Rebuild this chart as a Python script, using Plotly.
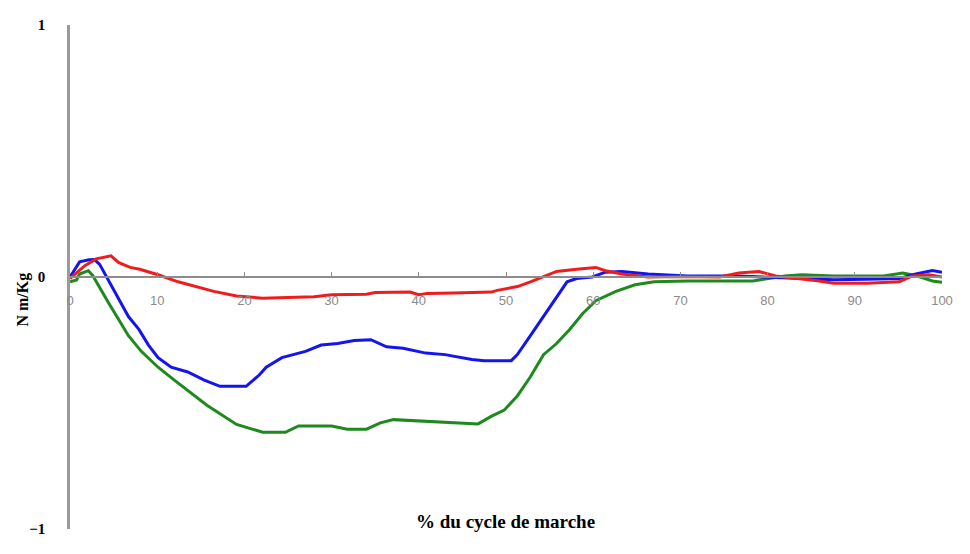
import plotly.graph_objects as go

# % of gait cycle vs moment (N m/Kg)
red_x = [0, 1.7, 3, 4.7, 5.6, 6.9, 8, 10.1, 12.4, 14.6, 16.5, 19.1, 22.1, 24, 28, 30, 34, 35, 39, 40, 41, 44,
         48.3, 49, 51.3, 52.8, 54.3, 55.8, 58.1, 60.3, 61.4, 63.3, 66.3, 70, 74.5, 76.7, 79, 80.9, 85.7, 87.6,
         91.4, 95.1, 96.6, 98.5, 100]
red_y = [-0.006, 0.045, 0.072, 0.084, 0.057, 0.038, 0.031, 0.009, -0.019, -0.038, -0.057, -0.075, -0.084, -0.082,
         -0.078, -0.07, -0.068, -0.062, -0.06, -0.07, -0.065, -0.063, -0.06, -0.053, -0.038, -0.019, 0.0, 0.022,
         0.031, 0.038, 0.025, 0.012, 0.0, 0.002, 0.0, 0.016, 0.022, 0.004, -0.015, -0.025, -0.025, -0.019, 0.004,
         0.009, 0.0]

blue_x = [0, 0.6, 1.1, 2.2, 2.8, 3.4, 4.5, 5.6, 6.7, 7.9, 9, 10.1, 11.6, 13.5, 15.4, 17.2, 20.2, 21.7, 22.5, 24.3,
          27, 28.8, 30.7, 32.6, 34.5, 36.3, 38.2, 40.8, 43, 46.1, 47.5, 50.6, 51.3, 52.8, 54.3, 55.8, 57, 58.1,
          59.9, 61.4, 63.3, 66.3, 70.8, 76.4, 82, 87.6, 91.3, 95.1, 97, 98.9, 100]
blue_y = [0.0, 0.031, 0.06, 0.068, 0.069, 0.05, -0.019, -0.082, -0.157, -0.208, -0.27, -0.32, -0.358, -0.377,
          -0.409, -0.434, -0.434, -0.389, -0.358, -0.32, -0.295, -0.27, -0.264, -0.252, -0.249, -0.277, -0.283,
          -0.302, -0.308, -0.327, -0.332, -0.332, -0.308, -0.233, -0.157, -0.082, -0.019, -0.006, 0.0, 0.019,
          0.022, 0.012, 0.004, 0.004, -0.004, -0.011, -0.009, -0.006, 0.012, 0.026, 0.019]

green_x = [0, 0.75, 1.1, 2.1, 2.6, 3.4, 4.5, 5.6, 6.7, 8.2, 10.1, 12, 13.9, 15.7, 19.1, 22.1, 24.7, 26.2, 30,
           31.8, 34, 35.6, 37.1, 40.1, 43.8, 46.8, 48.3, 49.8, 51.3, 52.8, 54.3, 55.8, 57.3, 58.8, 60.3, 62.6,
           64.8, 67, 70.8, 78.3, 82, 83.9, 87.6, 93.3, 95.5, 97, 98.9, 100]
green_y = [-0.019, -0.012, 0.012, 0.025, 0.006, -0.044, -0.107, -0.17, -0.233, -0.296, -0.358, -0.41, -0.46,
           -0.509, -0.585, -0.616, -0.616, -0.591, -0.591, -0.604, -0.604, -0.579, -0.566, -0.572, -0.579, -0.583,
           -0.553, -0.528, -0.472, -0.396, -0.308, -0.264, -0.208, -0.145, -0.094, -0.057, -0.031, -0.019, -0.016,
           -0.016, 0.004, 0.009, 0.004, 0.004, 0.016, 0.006, -0.016, -0.021]

x_ticks = [0, 10, 20, 30, 40, 50, 60, 70, 80, 90, 100]
y_ticks = [-1, 0, 1]

SERIF = "Liberation Serif"

fig = go.Figure()
for xs, ys, col in [(green_x, green_y, "#1e8a1e"), (blue_x, blue_y, "#1414f0"), (red_x, red_y, "#ee1c1c")]:
    fig.add_trace(go.Scatter(x=xs, y=ys, mode="lines", line=dict(color=col, width=3), showlegend=False))

# page body has an 8px margin: size the figure so the page is exactly 970x554
fig.update_layout(
    width=954, height=538, plot_bgcolor="white", paper_bgcolor="white",
    margin=dict(l=62, r=12, t=12, b=9),
    xaxis=dict(range=[0, 100], tickvals=x_ticks, showgrid=False, zeroline=False,
               anchor="free", position=0.5, showline=True, linecolor="#8c8c8c", linewidth=1.5,
               ticks="inside", ticklen=4, tickcolor="#8c8c8c", ticklabelstandoff=12,
               tickfont=dict(family="Liberation Sans", size=13, color="#8a8a8a")),
    yaxis=dict(range=[-1, 1], tickvals=y_ticks, showgrid=False, zeroline=False,
               showline=True, linecolor="#9a9a9a", linewidth=2.5, ticks="",
               ticklabelstandoff=19,
               tickfont=dict(family=SERIF, size=15, color="black", weight="bold")),
)
fig.add_annotation(x=-0.054, y=-0.09, xref="paper", yref="y", xanchor="center", text="N m/Kg",
                   textangle=-90, showarrow=False,
                   font=dict(family=SERIF, size=16, color="black", weight="bold"))
fig.add_annotation(x=49.9, y=-0.97, xref="x", yref="y", text="% du cycle de marche", showarrow=False,
                   font=dict(family=SERIF, size=19, color="black", weight="bold"))

fig.write_html("out.html")
